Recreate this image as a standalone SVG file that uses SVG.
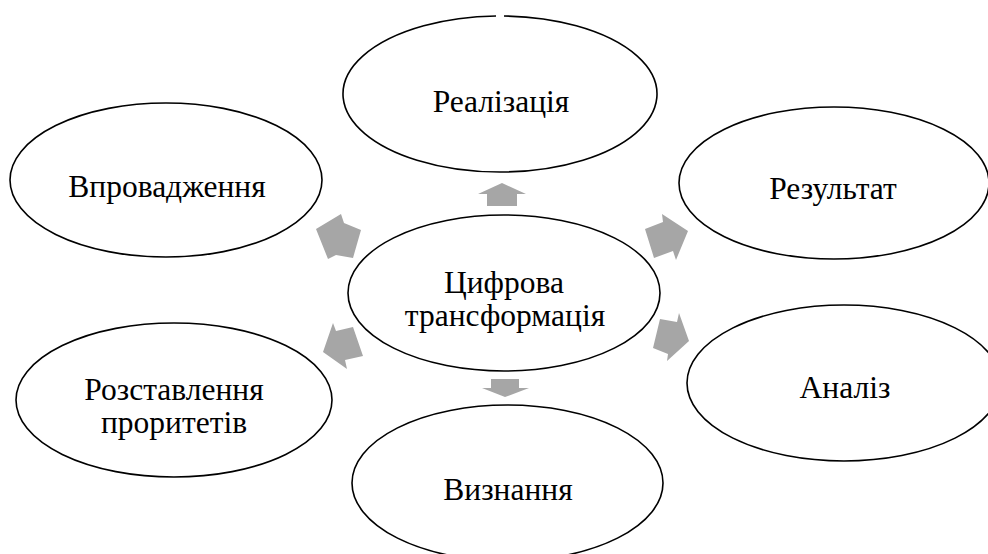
<svg xmlns="http://www.w3.org/2000/svg" width="988" height="554" viewBox="0 0 988 554">
<style>
.n{fill:#ffffff;stroke:#000000;stroke-width:1.6}
.t{font-family:'Liberation Serif','Times New Roman',serif;font-size:31.5px;fill:#000000;text-anchor:middle}
.a{fill:#a6a6a6;stroke:none}
</style>
<rect width="988" height="554" fill="#ffffff"/>
<g id="connectors">
<polygon class="a" points="502,183 526,194 517,194 517,206 487,206 487,194 478,194"/>
<polygon class="a" points="491,379 519,379 519,388 529,388 505,397 482,388 491,388"/>
<polygon class="a" points="316,229 341,214 344,223 361,230 353,258 336,255 328,259"/>
<polygon class="a" points="688,231 676,260 673,251 654,258 645,229 663,222 662,214"/>
<polygon class="a" points="323,352 333,323 336,331 353,327 363,356 345,360 347,369"/>
<polygon class="a" points="689,341 667,361 668,354 653,348 660,319 677,322 679,313"/>
</g>
<g id="node-realizatsiia">
<path class="n" d="M504,16.03 A157,78 0 1 1 496,16.03"/>
<text class="t" x="501" y="112">Реалізація</text>
</g>
<g id="node-vprovadzhennia">
<ellipse class="n" cx="166" cy="180" rx="156" ry="77"/>
<text class="t" x="167" y="197">Впровадження</text>
</g>
<g id="node-rezultat">
<ellipse class="n" cx="834" cy="183" rx="155" ry="76"/>
<text class="t" x="833" y="199">Результат</text>
</g>
<g id="node-tsyfrova">
<ellipse class="n" cx="504" cy="293" rx="156" ry="78"/>
<text class="t" x="504" y="293">Цифрова</text>
<text class="t" x="505" y="326">трансформація</text>
</g>
<g id="node-rozstavlennia">
<ellipse class="n" cx="174" cy="400" rx="158" ry="77"/>
<text class="t" x="174" y="400">Розставлення</text>
<text class="t" x="174" y="433">проритетів</text>
</g>
<g id="node-analiz">
<ellipse class="n" cx="844" cy="383" rx="157" ry="78"/>
<text class="t" x="845" y="398">Аналіз</text>
</g>
<g id="node-vyznannia">
<ellipse class="n" cx="507.5" cy="483" rx="155.5" ry="78"/>
<text class="t" x="508" y="500">Визнання</text>
</g>
</svg>
